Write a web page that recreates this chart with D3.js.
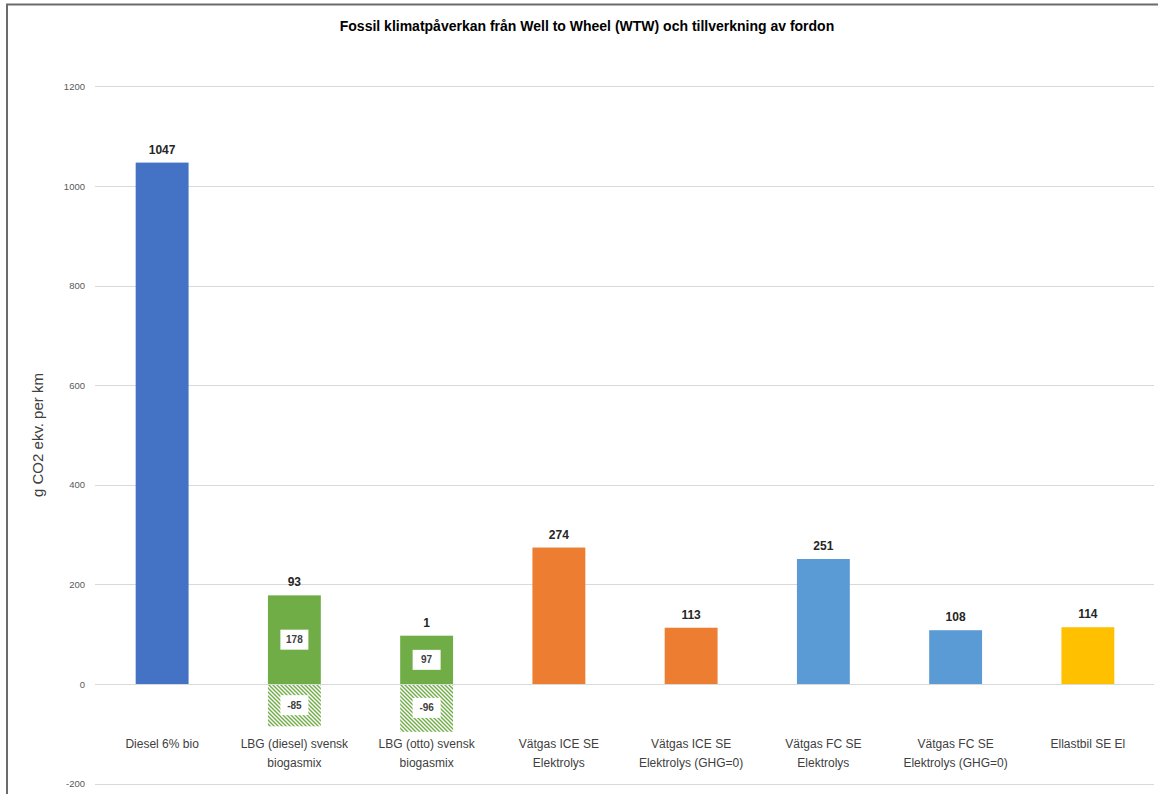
<!DOCTYPE html>
<html lang="sv">
<head>
  <meta charset="UTF-8">
  <title>Fossil klimatpåverkan</title>
  <script src="https://d3js.org/d3.v7.min.js"></script>
  <style>
    body { margin: 0; background: #fff; }
    svg { font-family: "Liberation Sans", Arial, sans-serif; }
  </style>
</head>
<body>
  <script>
    // data
    let categories = [
      ['Diesel 6% bio'],
      ['LBG (diesel) svensk', 'biogasmix'],
      ['LBG (otto) svensk', 'biogasmix'],
      ['Vätgas ICE SE', 'Elektrolys'],
      ['Vätgas ICE SE', 'Elektrolys (GHG=0)'],
      ['Vätgas FC SE', 'Elektrolys'],
      ['Vätgas FC SE', 'Elektrolys (GHG=0)'],
      ['Ellastbil SE El']
    ]
    let positive = [1047, 178, 97, 274, 113, 251, 108, 114]
    let negative = [0, -85, -96, 0, 0, 0, 0, 0]
    let totals = [1047, 93, 1, 274, 113, 251, 108, 114]
    let colors = ['#4472c4', '#70ad47', '#70ad47', '#ed7d31', '#ed7d31', '#5b9bd5', '#5b9bd5', '#ffc000']
    let yTicks = [-200, 0, 200, 400, 600, 800, 1000, 1200]

    let W = 1158, H = 794
    let svg = d3.select('body').append('svg')
      .attr('width', W)
      .attr('height', H)

    // chart border (cut off on the right and bottom)
    svg.append('rect')
      .attr('x', 7).attr('y', 4.5)
      .attr('width', W + 20).attr('height', H + 20)
      .attr('fill', 'none')
      .attr('stroke', '#6b6b6b')
      .attr('stroke-width', 2)

    let defs = svg.append('defs')
    let pat = defs.append('pattern')
      .attr('id', 'hatch')
      .attr('patternUnits', 'userSpaceOnUse')
      .attr('width', 4).attr('height', 4)
    pat.append('rect').attr('width', 4).attr('height', 4).attr('fill', '#fff')
    pat.append('path')
      .attr('d', 'M-1,-1 L5,5 M-1,3 L1,5 M3,-1 L5,1')
      .attr('stroke', '#70ad47')
      .attr('stroke-width', 1.4)

    let x = d3.scaleBand()
      .domain(d3.range(categories.length))
      .range([96, 1154])
      .paddingInner(0.6)
      .paddingOuter(0.3)

    let y = d3.scaleLinear()
      .domain([-200, 1200])
      .range([783.6, 86.4])

    // grid
    svg.append('g')
      .selectAll('line')
      .data(yTicks)
      .enter()
      .append('line')
      .attr('x1', 95).attr('x2', 1154)
      .attr('y1', d => Math.round(y(d)) + 0.5)
      .attr('y2', d => Math.round(y(d)) + 0.5)
      .attr('stroke', '#d9d9d9')
      .attr('stroke-width', 1)

    // y axis labels
    let yAxis = svg.append('g')
      .attr('transform', 'translate(85,0)')
      .call(d3.axisLeft(y).tickValues(yTicks).tickSize(0).tickPadding(0).tickFormat(d => String(d)))
    yAxis.select('.domain').remove()
    yAxis.selectAll('text')
      .attr('fill', '#595959')
      .style('font-size', '9.5px')

    svg.append('text')
      .attr('transform', 'translate(43,435) rotate(-90)')
      .attr('text-anchor', 'middle')
      .attr('fill', '#404040')
      .style('font-size', '15px')
      .text('g CO2 ekv. per km')

    // positive bars
    svg.append('g')
      .selectAll('rect')
      .data(positive)
      .enter()
      .append('rect')
      .attr('x', (d, i) => x(i))
      .attr('width', x.bandwidth())
      .attr('y', d => y(d))
      .attr('height', d => y(0) - y(d))
      .attr('fill', (d, i) => colors[i])

    // negative (hatched) bars
    svg.append('g')
      .selectAll('rect')
      .data(negative)
      .enter()
      .filter(d => d < 0)
      .append('rect')
      .attr('x', (d, i) => x(negative.indexOf(d)))
      .attr('width', x.bandwidth())
      .attr('y', y(0) + 1)
      .attr('height', d => y(d) - y(0) - 1)
      .attr('fill', 'url(#hatch)')

    // boxed labels inside the split bars
    let boxed = []
    positive.forEach((v, i) => {
      if (negative[i] < 0) {
        boxed.push({ i: i, v: v, mid: (y(v) + y(0)) / 2 })
        boxed.push({ i: i, v: negative[i], mid: (y(negative[i]) + y(0)) / 2 })
      }
    })
    let bl = svg.append('g')
      .selectAll('g')
      .data(boxed)
      .enter()
      .append('g')
      .attr('transform', d => 'translate(' + (x(d.i) + x.bandwidth() / 2) + ',' + d.mid + ')')
    bl.append('rect')
      .attr('x', -14).attr('y', -10)
      .attr('width', 28).attr('height', 20)
      .attr('fill', '#fff')
    bl.append('text')
      .attr('text-anchor', 'middle')
      .attr('dy', '0.35em')
      .attr('fill', '#404040')
      .style('font-size', '10px')
      .style('font-weight', 'bold')
      .text(d => d.v)

    // total labels above bars
    svg.append('g')
      .selectAll('text')
      .data(totals)
      .enter()
      .append('text')
      .attr('x', (d, i) => x(i) + x.bandwidth() / 2)
      .attr('y', (d, i) => y(positive[i]) - 9)
      .attr('text-anchor', 'middle')
      .attr('fill', '#262626')
      .style('font-size', '12px')
      .style('font-weight', 'bold')
      .text(d => d)

    // category labels
    let cl = svg.append('g')
      .selectAll('text')
      .data(categories)
      .enter()
      .append('text')
      .attr('text-anchor', 'middle')
      .attr('fill', '#404040')
      .style('font-size', '12px')
    cl.selectAll('tspan')
      .data((d, i) => d.map(s => ({ s: s, i: i })))
      .enter()
      .append('tspan')
      .attr('x', d => x(d.i) + x.bandwidth() / 2)
      .attr('y', (d, j) => 748 + j * 19)
      .text(d => d.s)

    svg.append('text')
      .attr('x', 587)
      .attr('y', 31)
      .attr('text-anchor', 'middle')
      .attr('fill', '#000')
      .style('font-size', '14px')
      .style('font-weight', 'bold')
      .text('Fossil klimatpåverkan från Well to Wheel (WTW) och tillverkning av fordon')
  </script>
</body>
</html>
